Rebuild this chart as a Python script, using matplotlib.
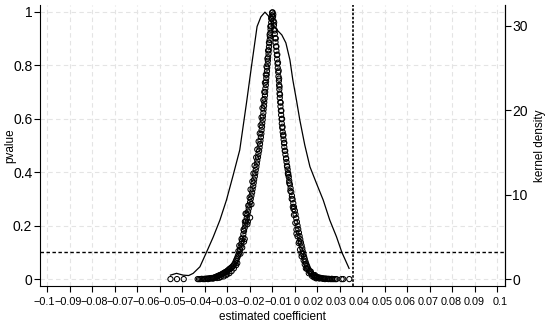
import numpy as np
import matplotlib
matplotlib.use("Agg")
import matplotlib.pyplot as plt

plt.rcParams['font.family'] = ['Liberation Sans', 'DejaVu Sans']

# placebo estimates: left branch (coef, pvalue)
left_coef = [-0.0452, -0.0423, -0.0393, -0.0331, -0.0325, -0.0319, -0.0313, -0.0307, -0.0301, -0.0295,
             -0.0289, -0.0284, -0.0279, -0.0274, -0.0270, -0.0265, -0.0260, -0.0256, -0.0252, -0.0248,
             -0.0244, -0.0240, -0.0236, -0.0232, -0.0228, -0.0224, -0.0220, -0.0216, -0.0212, -0.0208,
             -0.0204, -0.0200, -0.0196, -0.0192, -0.0188, -0.0184, -0.0180, -0.0176, -0.0172, -0.0168,
             -0.0164, -0.0161, -0.0158, -0.0155, -0.0152, -0.0149, -0.0146, -0.0143, -0.0140, -0.0137,
             -0.0134, -0.0131, -0.0128, -0.0125, -0.0122, -0.0119, -0.0116, -0.0113, -0.0110, -0.0107,
             -0.0104, -0.0101, -0.0098, -0.0095, -0.0092, -0.0089, -0.0087, -0.0084, -0.0082, -0.0080,
             -0.0077, -0.0075, -0.0073, -0.0070, -0.0068, -0.0066, -0.0063, -0.0061, -0.0058, -0.0056,
             -0.0054, -0.0052, -0.0050, -0.0048, -0.0047, -0.0045, -0.0044, -0.0042, -0.0041, -0.0039,
             -0.0038, -0.0036, -0.0035, -0.0034, -0.0032, -0.0031, -0.0030, -0.0028, -0.0027, -0.0026,
             -0.0024, -0.0023, -0.0022, -0.0020, -0.0019, -0.0018, -0.0016, -0.0015, -0.0014, -0.0012,
             -0.0011, -0.0010, -0.0008, -0.0007, -0.0005, -0.0004, -0.0002, -0.0001, 0.0000,
             -0.0122, -0.0110, -0.0118, -0.0098, -0.0133, -0.0155, -0.0180, -0.0200, -0.0215, -0.0235,
             -0.0150, -0.0141, -0.0146, -0.0136, -0.0127, -0.0121, -0.0114, -0.0106, -0.0100, -0.0096,
             -0.0088, -0.0083, -0.0078, -0.0071, -0.0066, -0.0060, -0.0055, -0.0051, -0.0047, -0.0043,
             -0.0039, -0.0035, -0.0032, -0.0028, -0.0025, -0.0021, -0.0018, -0.0014, -0.0011, -0.0008,
             -0.0004, -0.0108, -0.0092, -0.0125, -0.0160, -0.0170, -0.0190, -0.0205, -0.0228, -0.0245,
             -0.0262, -0.0285, -0.0300]
left_p = [0.000, 0.000, 0.000, 0.000, 0.000, 0.000, 0.001, 0.000, 0.001, 0.001,
          0.002, 0.001, 0.003, 0.002, 0.004, 0.003, 0.005, 0.006, 0.007, 0.009,
          0.010, 0.012, 0.013, 0.015, 0.016, 0.018, 0.020, 0.022, 0.024, 0.026,
          0.028, 0.030, 0.033, 0.036, 0.039, 0.041, 0.044, 0.047, 0.051, 0.056,
          0.062, 0.068, 0.074, 0.080, 0.087, 0.093, 0.100, 0.110, 0.121, 0.132,
          0.143, 0.155, 0.168, 0.180, 0.192, 0.204, 0.216, 0.228, 0.240, 0.252,
          0.264, 0.276, 0.288, 0.300, 0.312, 0.324, 0.336, 0.348, 0.360, 0.372,
          0.384, 0.396, 0.408, 0.420, 0.432, 0.444, 0.456, 0.468, 0.480, 0.492,
          0.505, 0.518, 0.531, 0.544, 0.557, 0.570, 0.583, 0.596, 0.609, 0.622,
          0.635, 0.648, 0.661, 0.674, 0.687, 0.700, 0.713, 0.726, 0.739, 0.752,
          0.765, 0.778, 0.791, 0.804, 0.817, 0.830, 0.843, 0.856, 0.869, 0.882,
          0.895, 0.908, 0.921, 0.934, 0.947, 0.960, 0.973, 0.986, 0.997,
          0.150, 0.205, 0.245, 0.230, 0.118, 0.060, 0.030, 0.018, 0.010, 0.005,
          0.105, 0.095, 0.125, 0.150, 0.185, 0.215, 0.245, 0.275, 0.305, 0.335,
          0.365, 0.395, 0.425, 0.455, 0.485, 0.515, 0.545, 0.575, 0.605, 0.640,
          0.670, 0.700, 0.735, 0.765, 0.795, 0.825, 0.855, 0.885, 0.915, 0.945,
          0.975, 0.215, 0.280, 0.140, 0.052, 0.040, 0.022, 0.015, 0.008, 0.004,
          0.002, 0.000, 0.000]

# right branch
right_coef = [0.0002, 0.0004, 0.0006, 0.0008, 0.0009, 0.0012, 0.0014, 0.0015, 0.0017, 0.0019,
              0.0021, 0.0022, 0.0024, 0.0025, 0.0027, 0.0028, 0.0030, 0.0031, 0.0032, 0.0033,
              0.0034, 0.0036, 0.0037, 0.0039, 0.0040, 0.0042, 0.0043, 0.0045, 0.0047, 0.0049,
              0.0051, 0.0053, 0.0054, 0.0056, 0.0059, 0.0062, 0.0064, 0.0066, 0.0069, 0.0071,
              0.0074, 0.0076, 0.0079, 0.0082, 0.0085, 0.0088, 0.0091, 0.0094, 0.0097, 0.0101,
              0.0104, 0.0107, 0.0110, 0.0113, 0.0116, 0.0119, 0.0122, 0.0125, 0.0128, 0.0131,
              0.0134, 0.0136, 0.0139, 0.0142, 0.0145, 0.0148, 0.0151, 0.0155, 0.0158, 0.0162,
              0.0166, 0.0170, 0.0175, 0.0181, 0.0187, 0.0194, 0.0200, 0.0206, 0.0212, 0.0218,
              0.0224, 0.0231, 0.0238, 0.0245, 0.0252, 0.0259, 0.0266, 0.0273, 0.0280, 0.0286,
              0.0309, 0.0316, 0.0343,
              0.0121, 0.0108, 0.0131, 0.0150, 0.0172, 0.0190, 0.0198, 0.0226, 0.0095, 0.0070,
              0.0005, 0.0009, 0.0012, 0.0016, 0.0019, 0.0023, 0.0026, 0.0029, 0.0031, 0.0033,
              0.0035, 0.0038, 0.0041, 0.0044, 0.0046, 0.0050, 0.0054, 0.0058, 0.0062, 0.0067,
              0.0072, 0.0076, 0.0081, 0.0087, 0.0092, 0.0097, 0.0103, 0.0108, 0.0113, 0.0118,
              0.0124, 0.0131, 0.0140, 0.0145, 0.0155, 0.0163, 0.0177, 0.0185, 0.0195, 0.0210,
              0.0235, 0.0250, 0.0265]
right_p = [0.998, 0.982, 0.966, 0.950, 0.934, 0.918, 0.902, 0.886, 0.870, 0.854,
           0.838, 0.822, 0.806, 0.790, 0.774, 0.758, 0.742, 0.726, 0.710, 0.694,
           0.678, 0.662, 0.646, 0.630, 0.614, 0.598, 0.582, 0.566, 0.550, 0.536,
           0.522, 0.508, 0.494, 0.480, 0.466, 0.452, 0.438, 0.424, 0.410, 0.396,
           0.382, 0.368, 0.354, 0.340, 0.326, 0.312, 0.298, 0.284, 0.270, 0.256,
           0.242, 0.228, 0.214, 0.200, 0.187, 0.174, 0.161, 0.149, 0.137, 0.126,
           0.115, 0.104, 0.094, 0.084, 0.075, 0.066, 0.058, 0.050, 0.043, 0.036,
           0.030, 0.025, 0.020, 0.016, 0.013, 0.010, 0.008, 0.006, 0.005, 0.004,
           0.003, 0.002, 0.002, 0.001, 0.001, 0.000, 0.000, 0.000, 0.000, 0.000,
           0.000, 0.000, 0.000,
           0.140, 0.170, 0.085, 0.040, 0.028, 0.015, 0.004, 0.001, 0.262, 0.395,
           0.990, 0.960, 0.930, 0.900, 0.870, 0.840, 0.810, 0.780, 0.750, 0.720,
           0.690, 0.660, 0.630, 0.600, 0.570, 0.540, 0.510, 0.480, 0.450, 0.420,
           0.390, 0.360, 0.330, 0.300, 0.270, 0.240, 0.210, 0.185, 0.160, 0.135,
           0.110, 0.095, 0.070, 0.055, 0.038, 0.022, 0.012, 0.007, 0.003, 0.002,
           0.000, 0.000, 0.001]

# kernel density of placebo estimates
kd_coef = [-0.0452, -0.0425, -0.0396, -0.0371, -0.0351, -0.0321, -0.0292, -0.0262, -0.0232, -0.0203,
           -0.0173, -0.0144, -0.0114, -0.0092, -0.0067, -0.0050, -0.0032, -0.0017, -0.0001, 0.0021,
           0.0043, 0.0061, 0.0079, 0.0092, 0.0108, 0.0123, 0.0145, 0.0168, 0.0197, 0.0227,
           0.0256, 0.0286, 0.0310, 0.0342]
kd_dens = [0.47, 0.68, 0.47, 0.42, 0.68, 1.46, 3.17, 4.98, 7.00, 9.37,
           12.34, 15.30, 20.88, 25.18, 29.93, 31.08, 31.64, 31.20, 30.25, 29.54,
           28.94, 28.00, 25.98, 23.60, 21.23, 18.86, 15.90, 13.32, 11.35, 9.37,
           7.00, 5.02, 3.17, 1.27]

true_coef = 0.036
p_cut = 0.1

xticks = np.round(np.arange(-0.1, 0.1001, 0.01), 2)
xlabels = ['−0.1', '−0.09', '−0.08', '−0.07', '−0.06', '−0.05', '−0.04', '−0.03', '−0.02', '−0.01',
           '0', '0.02', '0.03', '0.04', '0.05', '0.06', '0.07', '0.08', '0.09', '0.1']
# where the labels sit in the original (they drift off the tick marks)
xlabel_pos = [-0.1013, -0.0906, -0.0792, -0.0676, -0.0560, -0.0444, -0.0329, -0.0213, -0.0093, 0.0025,
              0.0110, 0.0181, 0.0283, 0.0386, 0.0488, 0.0590, 0.0692, 0.0795, 0.0897, 0.1012]

fig = plt.figure(figsize=(5.5, 3.24), dpi=100)
ax = fig.add_axes([0.0727, 0.117, 0.845, 0.868])
ax2 = ax.twinx()

grid_kw = dict(color='#e4e4e4', lw=0.8, ls=(0, (4, 3)), zorder=0)
for xt in xticks:
    ax.axvline(xt, **grid_kw)
for yt in [0, 0.2, 0.4, 0.6, 0.8, 1.0]:
    ax.axhline(yt, **grid_kw)

ax.scatter(left_coef + right_coef, left_p + right_p, s=14, facecolors='none',
           edgecolors='black', linewidths=0.75, zorder=3)
ax.axhline(p_cut, color='black', lw=1.0, ls=(0, (2.5, 1.8)), zorder=4)
ax.axvline(true_coef, color='black', lw=1.2, ls=(0, (1.5, 1.0)), zorder=4)

ax2.plot(kd_coef, kd_dens, color='black', lw=0.9)

ax.set_xlim(-0.1032, 0.1034)
ax.set_ylim(-0.0262, 1.026)
ax2.set_ylim(-0.83, 32.5)

# tick marks at every 0.01, labels where the original prints them
ax.set_xticks(xticks, minor=True)
ax.set_xticks(xlabel_pos)
ax.set_xticklabels(xlabels, fontsize=7.8)
ax.tick_params(axis='x', which='major', length=0, pad=8)
ax.tick_params(axis='x', which='minor', length=4, width=0.8)

ax.set_yticks([0, 0.2, 0.4, 0.6, 0.8, 1])
ax.set_yticklabels(['0', '0.2', '0.4', '0.6', '0.8', '1'], fontsize=10)
ax.tick_params(axis='y', length=4, width=0.8, pad=1.5)
ax2.set_yticks([0, 10, 20, 30])
ax2.tick_params(axis='y', labelsize=10, length=4, width=0.8, pad=1.5)

ax.set_xlabel('estimated coefficient', fontsize=8.5)
ax.set_ylabel('pvalue', fontsize=8.5)
ax2.set_ylabel('kernel density', fontsize=8.5)
ax.xaxis.set_label_coords(0.5, -0.087)
ax.yaxis.set_label_coords(-0.052, 0.5)
ax2.yaxis.set_label_coords(1.062, 0.5)

for a in (ax, ax2):
    a.spines['top'].set_visible(False)
    for s in ('left', 'right', 'bottom'):
        a.spines[s].set_linewidth(0.8)
ax2.spines['left'].set_visible(False)
ax2.spines['bottom'].set_visible(False)

fig.savefig('out.png', dpi=100)
